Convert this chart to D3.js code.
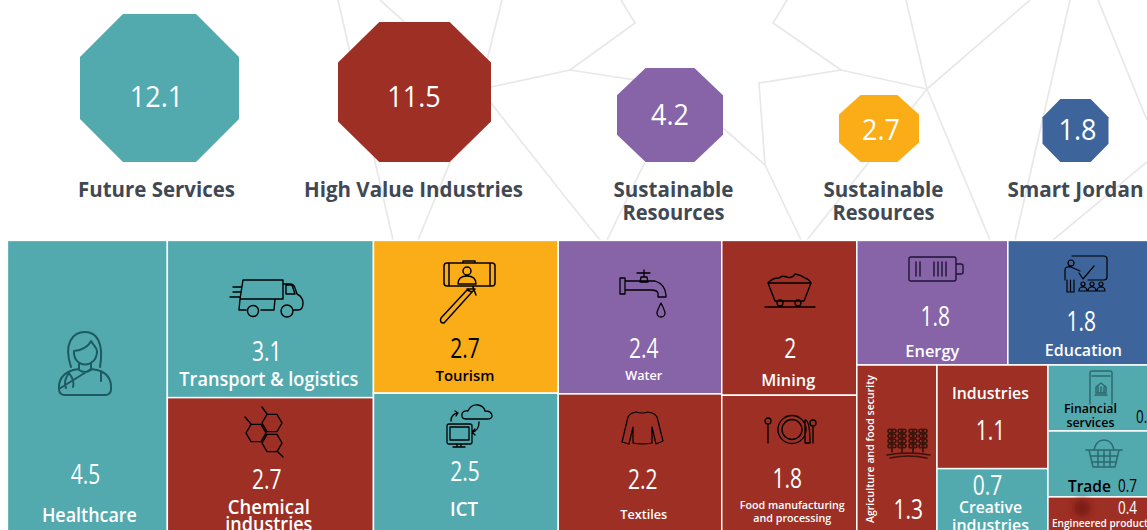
<!DOCTYPE html>
<html lang="en">
<head>
<meta charset="utf-8">
<script src="https://d3js.org/d3.v7.min.js"></script>
<style>
  html, body { margin: 0; padding: 0; background: #fff; overflow: hidden; }
  svg { display: block; }
  text { font-family: "Open Sans", "Noto Sans", sans-serif; }
  .icon { fill: none; stroke-linecap: round; stroke-linejoin: round; }
</style>
</head>
<body>
<svg id="chart" width="1147" height="530"></svg>

<script>
// ---- data
var pillars = ["Future Services", "High Value Industries", "Sustainable Resources", "Sustainable Resources", "Smart Jordan"];
var pillarValues = [12.1, 11.5, 4.2, 2.7, 1.8];

var sectors = ["Healthcare", "Transport & logistics", "Chemical industries", "Tourism", "ICT", "Water", "Textiles",
  "Mining", "Food manufacturing and processing", "Energy", "Education", "Agriculture and food security",
  "Industries", "Creative industries", "Financial services", "Trade", "Engineered products"];
var sectorValues = [4.5, 3.1, 2.7, 2.7, 2.5, 2.4, 2.2, 2, 1.8, 1.8, 1.8, 1.3, 1.1, 0.7, 0.7, 0.7, 0.4];
var sectorPillar = [0, 0, 1, 3, 0, 2, 1, 1, 1, 2, 4, 1, 1, 0, 0, 0, 1];

// how the tiles nest: columns, then rows, then columns again
var arrangement = [
  ["Healthcare"],
  ["Transport & logistics", "Chemical industries"],
  ["Tourism", "ICT"],
  ["Water", "Textiles"],
  ["Mining", "Food manufacturing and processing"],
  [["Energy", "Education"],
   ["Agriculture and food security", ["Industries", "Creative industries"], ["Financial services", "Trade", "Engineered products"]]]
];

// ---- styles and placement, separate from the values
var pillarColor = ["#52aaaf", "#9e2f24", "#8763a8", "#fbad18", "#3e659b"];
var inkColor = "#3f4853";

// octagon sizes: they are not quite a sqrt of the value in the original, so go through the measured stops
var octWidth = d3.scaleLinear().domain([1.8, 2.7, 4.2, 11.5, 12.1]).range([66, 80, 106, 153, 159]);
var octHeight = d3.scaleLinear().domain([1.8, 2.7, 4.2, 11.5, 12.1]).range([63, 67, 94, 140, 148]);
var octBottom = 162;
var pillarX = [159.5, 414.5, 670, 879, 1075.5];
var pillarNumX = [156.5, 414, 670, 881, 1077.5];
var pillarNumY = [107, 107, 125, 140, 140];
var pillarLabelX = [156.5, 413.5, 673.5, 883.5, 1075.5];
var pillarLines = [["Future Services"], ["High Value Industries"], ["Sustainable", "Resources"], ["Sustainable", "Resources"], ["Smart Jordan"]];
var pillarLineWidth = { "Future Services": 157, "High Value Industries": 219, "Sustainable": 120, "Resources": 102, "Smart Jordan": 136 };

// offsets from a tile's top left corner: v = value centre/baseline, l = label centre/baseline
var tileText = {
  "Healthcare": { v: [78, 244], l: [82, 282], size: 19, w: [95] },
  "Transport & logistics": { v: [99.5, 121], l: [101.5, 145.5], size: 19, w: [179] },
  "Chemical industries": { v: [99.5, 91.5], l: [101.5, 116], size: 19, lines: ["Chemical", "industries"], lead: 17, w: [82, 87] },
  "Tourism": { v: [91.5, 118], l: [91.5, 141], size: 15, ink: "#000", w: [59] },
  "ICT": { v: [91.5, 87.5], l: [90.5, 122.5], size: 19, w: [28] },
  "Water": { v: [85.5, 118], l: [85.5, 140], size: 13, w: [37] },
  "Textiles": { v: [84.5, 95.5], l: [85.5, 125], size: 13, w: [47] },
  "Mining": { v: [68.5, 118], l: [66.5, 145.5], size: 17, w: [54] },
  "Food manufacturing and processing": { v: [65.5, 93], l: [70.5, 113.5], size: 11, lines: ["Food manufacturing", "and processing"], lead: 13.5, w: [105, 78] },
  "Energy": { v: [78.5, 86], l: [75.5, 117], size: 17, w: [54] },
  "Education": { v: [73.5, 91], l: [75.5, 116], size: 17, w: [77] },
  "Agriculture and food security": { v: [51.5, 153.5], rotated: [17.5, 158], size: 11.5, w: [148] },
  "Industries": { v: [53.5, 75], l: [53.5, 34], size: 17, w: [77] },
  "Creative industries": { v: [50.5, 26], l: [53.5, 44], size: 17, lines: ["Creative", "industries"], lead: 18, w: [63, 77] },
  "Financial services": { v: [97.5, 58], l: [42.5, 48], size: 12, lines: ["Financial", "services"], lead: 13.5, ink: "#000", w: [53, 48], vSize: 18, vInk: "#000" },
  "Trade": { v: [79.5, 61], l: [41.5, 61], size: 16, ink: "#000", w: [43], vSize: 18, vInk: "#000" },
  "Engineered products": { v: [79.5, 17.5], l: [54.5, 30.5], size: 11.5, w: [101], vSize: 18 }
};
var numSqueeze = 0.75;

// the faint network drawn behind everything
var meshLines = [
  [[338, 0], [393, 240]],
  [[380, 0], [420, 36]],
  [[502, 0], [487, 60]],
  [[491, 87], [570, 70], [635, 80]],
  [[570, 70], [635, 23], [621, 0]],
  [[491, 103], [570, 203], [600, 240]],
  [[451, 160], [418, 240]],
  [[645, 162], [607, 240]],
  [[723, 128], [765, 165], [801, 240]],
  [[765, 165], [759, 83], [841, 70], [927, 89]],
  [[927, 89], [906, 0]],
  [[927, 89], [1030, 0]],
  [[927, 89], [807, 240]],
  [[841, 70], [773, 23], [787, 0]],
  [[927, 89], [990, 240]],
  [[1070, 0], [1015, 240]],
  [[1098, 0], [1147, 120]],
  [[1147, 162], [1053, 240]]
];

var svg = d3.select("#chart");
var lineGen = d3.line();

svg.append("g").selectAll("path")
  .data(meshLines)
  .enter().append("path")
    .attr("d", lineGen)
    .attr("fill", "none")
    .attr("stroke", "#e8e8e8")
    .attr("stroke-width", 1.7);

// ---- top row of octagons
var octLine = d3.line().curve(d3.curveLinearClosed);
function octagon(w, h) {
  var cx = 0.27 * w, cy = 0.29 * h;
  return octLine([[cx, 0], [w - cx, 0], [w, cy], [w, h - cy], [w - cx, h], [cx, h], [0, h - cy], [0, cy]]);
}

var pillar = svg.append("g").selectAll("g")
  .data(pillars)
  .enter().append("g");

pillar.append("path")
  .attr("transform", function(d, i) {
    return "translate(" + (pillarX[i] - octWidth(pillarValues[i]) / 2) + "," + (octBottom - octHeight(pillarValues[i])) + ")";
  })
  .attr("d", function(d, i) { return octagon(octWidth(pillarValues[i]), octHeight(pillarValues[i])); })
  .attr("fill", function(d, i) { return pillarColor[i]; });

pillar.append("text")
  .attr("transform", function(d, i) { return "translate(" + pillarNumX[i] + "," + pillarNumY[i] + ") scale(0.93,1)"; })
  .attr("text-anchor", "middle")
  .attr("font-size", 29)
  .attr("fill", "#fff")
  .text(function(d, i) { return pillarValues[i]; });

pillar.each(function(d, i) {
  var g = d3.select(this);
  pillarLines[i].forEach(function(line, k) {
    g.append("text")
      .attr("x", pillarLabelX[i])
      .attr("y", 197 + k * 23)
      .attr("text-anchor", "middle")
      .attr("font-size", 21)
      .attr("font-weight", 700)
      .attr("fill", inkColor)
      .attr("textLength", pillarLineWidth[line])
      .attr("lengthAdjust", "spacingAndGlyphs")
      .text(line);
  });
});

// ---- treemap, runs a little past the edges of the crop like the original
var valueByName = new Map(sectors.map(function(s, i) { return [s, sectorValues[i]]; }));
var pillarByName = new Map(sectors.map(function(s, i) { return [s, sectorPillar[i]]; }));

function toNode(item) {
  return typeof item === "string" ? { name: item } : { children: item.map(toNode) };
}

var root = d3.hierarchy(toNode(arrangement)).sum(function(d) { return valueByName.get(d.name) || 0; });

d3.treemap()
  .size([1151.5, 294.2])
  .tile(function(node, x0, y0, x1, y1) {
    (node.depth % 2 ? d3.treemapSlice : d3.treemapDice)(node, x0, y0, x1, y1);
  })(root);

var tile = svg.append("g")
  .attr("transform", "translate(7.4,240.4)")
  .selectAll("g")
  .data(root.leaves())
  .enter().append("g")
    .attr("transform", function(d) { return "translate(" + d.x0 + "," + d.y0 + ")"; });

tile.append("rect")
  .attr("width", function(d) { return d.x1 - d.x0; })
  .attr("height", function(d) { return d.y1 - d.y0; })
  .attr("fill", function(d) { return pillarColor[pillarByName.get(d.data.name)]; })
  .attr("stroke", "#fff")
  .attr("stroke-width", 1.5);

tile.each(function(d) {
  var g = d3.select(this), t = tileText[d.data.name];
  var ink = t.ink || "#fff";

  g.append("text")
    .attr("transform", "translate(" + t.v[0] + "," + t.v[1] + ") scale(" + numSqueeze + ",1)")
    .attr("text-anchor", "middle")
    .attr("font-size", t.vSize || 28)
    .attr("fill", t.vInk || ink)
    .text(d.value);

  if (t.rotated) {
    g.append("text")
      .attr("transform", "translate(" + t.rotated[0] + "," + t.rotated[1] + ") rotate(-90)")
      .attr("font-size", t.size)
      .attr("font-weight", 600)
      .attr("fill", ink)
      .attr("textLength", t.w[0])
      .attr("lengthAdjust", "spacingAndGlyphs")
      .text(d.data.name);
    return;
  }

  (t.lines || [d.data.name]).forEach(function(line, k) {
    g.append("text")
      .attr("x", t.l[0])
      .attr("y", t.l[1] + k * (t.lead || 0))
      .attr("text-anchor", "middle")
      .attr("font-size", t.size)
      .attr("font-weight", 600)
      .attr("fill", ink)
      .attr("textLength", t.w[k])
      .attr("lengthAdjust", "spacingAndGlyphs")
      .text(line);
  });
});

// ---- pictograms, hand traced, each in its own little pixel box
function hex(cx, cy, r) {
  return "M" + d3.range(6).map(function(k) {
    var a = Math.PI / 3 * k;
    return (cx + r * Math.cos(a)) + " " + (cy + r * Math.sin(a));
  }).join("L") + "Z";
}
function dot(cx, cy, r) {
  return "M" + (cx - r) + " " + cy + "a" + r + " " + r + " 0 1 0 " + (2 * r) + " 0a" + r + " " + r + " 0 1 0 " + (-2 * r) + " 0Z";
}
function wheatPath() {
  var p = "";
  [5, 15, 26, 36].forEach(function(x) {
    p += "M" + x + " 4V27";
    [6, 11, 16, 21].forEach(function(y) {
      p += dot(x - 2.2, y, 1.8) + dot(x + 2.2, y, 1.8);
    });
  });
  return p + "M0 30Q21 26 43 30M3 33Q21 29 40 33";
}

var icons = [
  { at: [57, 331], ink: "#1d5a60", sw: 2, blur: 0.5, d: "M14 36C6 12 16 1 28 1C40 1 47 12 43 36M17 20C24 20 32 15 34 10C37 15 40 17 40 20M17 20C16 38 40 38 40 20M22 33V39Q28 43 34 39V33M2 58Q1 44 16 39L22 38M34 38L40 39Q55 43 54 58Q54 64 48 64H8Q2 64 2 58ZM12 42Q6 50 9 57M12 42Q18 50 16 56M44 40V50" },
  { at: [230, 279], ink: "#000", sw: 1.4, d: "M13 1H53V20H10ZM3 8H12M3 13H11M0 18H10M10 20L9 31H16" + dot(23, 32, 5.5) + "M31 31H44L45 20" + dot(57, 32, 6) + "M53 5H60Q64 5 65 9L67 15Q73 18 73 24Q73 31 68 31H64M56 6H62L65 15H56Z" },
  { at: [245, 407], ink: "#000", sw: 1.4, d: hex(11, 26, 10) + hex(27, 16, 10) + hex(27, 36, 10) + "M0 10L6 17M17 0L22 7M38 50L32 44" },
  { at: [439, 260], ink: "#000", sw: 1.5, d: "M8 3H53Q56 3 56 6V23Q56 26 53 26H8Q5 26 5 23V6Q5 3 8 3ZM10 3V26M51 3V26M24 3V1H36V3M19 24Q19 16 28 16Q37 16 37 24Z" + dot(28, 11, 4) + "M28 30L2 58Q0 63 5 63L33 32ZM28 29H36L33 32M34 27L37 35" },
  { at: [446, 404], ink: "#000", sw: 1.3, d: "M20 15Q15 15 16 10Q17 6 22 7Q25 0 32 1Q38 2 39 7Q46 7 46 12Q46 15 41 15ZM1 22Q1 20 3 20H24Q26 20 26 22V38Q26 40 24 40H3Q1 40 1 38ZM4 23H23V36H4ZM11 40V43M15 40V43M7 43H19M5 17Q5 10 12 9M12 9L9 7M12 9L10 12M33 18Q33 27 26 28M26 28L29 25M26 28L29 31" },
  { at: [619, 269], ink: "#000", sw: 1.3, d: "M18 4H31M25 1V8M22 8H28L29 13H21ZM6 12H36Q46 15 47 26V28H39V24Q38 21 32 21H6M1 9H6V25H1ZM42 34Q38 42 38 44A4 4 0 0 0 46 44Q46 42 42 34Z" },
  { at: [622, 411], ink: "#000", sw: 1.2, d: "M14 1Q20 3 26 1Q33 2 35 6L41 30L34 33L30 16V32Q20 34 11 32V16L7 33L0 31L6 6Q8 2 14 1Z" },
  { at: [765, 273], ink: "#000", sw: 1.4, d: "M3 10Q7 5 14 5Q17 2 22 4Q27 6 30 1Q36 2 40 5Q44 6 46 10M3 10H46L39 28H10ZM0 34H50" + dot(15, 30, 3) + dot(33, 30, 3) },
  { at: [764, 415], ink: "#000", sw: 1.3, d: dot(28, 14.5, 14) + dot(28, 14.5, 10) + dot(4, 6, 3) + "M4 10V28M41 5Q46 5 46 28H41Z" + dot(49, 8, 3) + "M49 12V28" },
  { at: [909, 257], ink: "#1d1433", sw: 1.4, d: "M2 0H45Q47 0 47 2V22Q47 24 45 24H2Q0 24 0 22V2Q0 0 2 0ZM47 7H52Q54 7 54 9V15Q54 17 52 17H47M7 5V19M11 5V19M25 5V19M29 5V19M33 5V19M37 5V19" },
  { at: [1064, 256], ink: "#000", sw: 1.2, d: "M8 0H40Q43 0 43 3V21Q43 24 40 24H24M15 17L19 23L30 10" + dot(7, 7, 3) + "M1 24V14Q1 10 7 11L16 15M3 24V36H10V24M6.5 24V36" + dot(19, 28, 2) + dot(28, 28, 2) + dot(37, 28, 2) + "M15 35Q15 31 19 31Q23 31 23 35ZM24 35Q24 31 28 31Q32 31 32 35ZM33 35Q33 31 37 31Q41 31 41 35Z" },
  { at: [887, 425], ink: "#3a120d", sw: 1.6, blur: 0.6, d: wheatPath() },
  { at: [1090, 371], ink: "#2d6a6e", sw: 1.5, blur: 0.5, d: "M2 0H20Q22 0 22 2V33M0 33V2Q0 0 2 0M2 5H20M6 22H16V16L11 12L6 16ZM5 24H17M8 16V22M11 16V22M14 16V22" },
  { at: [1086, 440], ink: "#2d6a6e", sw: 1.5, blur: 0.5, d: "M0 10H36M3 10L7 27H29L33 10M8 10Q10 0 18 0Q26 0 28 10M12 10V27M18 10V27M24 10V27M4 16H32M6 22H30" },
  { at: [1070, 496], ink: "#7d1f14", fillIcon: true, blur: 3, d: dot(12, 12, 9) }
];

var defs = svg.append("defs");
[0.5, 0.6, 3].forEach(function(b) {
  defs.append("filter").attr("id", "blur" + String(b).replace(".", ""))
    .attr("x", "-30%").attr("y", "-30%").attr("width", "160%").attr("height", "160%")
    .append("feGaussianBlur").attr("stdDeviation", b);
});

svg.append("g").selectAll("path")
  .data(icons)
  .enter().append("path")
    .attr("class", "icon")
    .attr("transform", function(d) { return "translate(" + d.at + ")"; })
    .attr("d", function(d) { return d.d; })
    .attr("stroke", function(d) { return d.fillIcon ? "none" : d.ink; })
    .style("fill", function(d) { return d.fillIcon ? d.ink : "none"; })
    .attr("stroke-width", function(d) { return d.sw; })
    .attr("filter", function(d) { return d.blur ? "url(#blur" + String(d.blur).replace(".", "") + ")" : null; });
</script>
</body>
</html>
